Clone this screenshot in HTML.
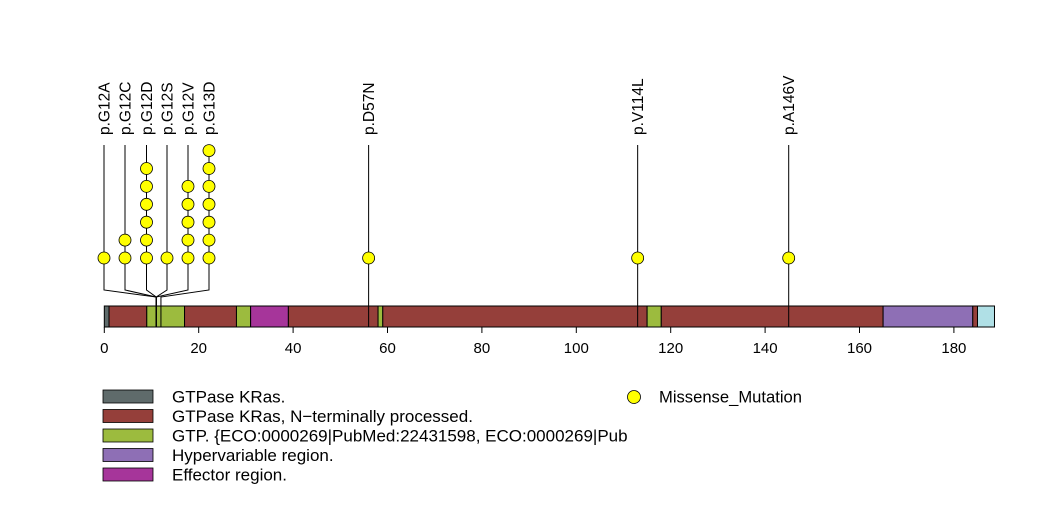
<!DOCTYPE html>
<html><head><meta charset="utf-8"><style>
body{margin:0;background:#fff;}
svg{display:block;font-family:"Liberation Sans",sans-serif;}
</style></head><body>
<svg id="chart" width="1047" height="524" viewBox="0 0 1047 524" xmlns="http://www.w3.org/2000/svg">
<g id="domains"></g>
<g id="muts"></g>
<g id="axis"></g>
<g id="legend"></g>
</svg>
<script>
const domainStarts=[0,1,9,17,28,31,39,58,59,115,118,165,184,185];
const domainEnds=[1,9,17,28,31,39,58,59,115,118,165,184,185,188.6];
const domainTypes=[0,1,2,1,2,4,1,2,1,2,1,3,1,5];
const typeColors=["#5f6b6b","#953f3a","#9cbb3e","#8e6fb5","#a6359a","#b0e0e6"];
const mutLabels=["p.G12A","p.G12C","p.G12D","p.G12S","p.G12V","p.G13D","p.D57N","p.V114L","p.A146V"];
const mutPositions=[11,11,11,11,11,12,56,113,145];
const mutCounts=[1,2,6,1,5,7,1,1,1];
const dispX=[104,125,146.5,167,188,209,null,null,null];
const ticks=[0,20,40,60,80,100,120,140,160,180];
const legendLabels=["GTPase KRas.","GTPase KRas, N\u2212terminally processed.","GTP. {ECO:0000269|PubMed:22431598, ECO:0000269|Pub","Hypervariable region.","Effector region."];
const legendTypes=[0,1,2,3,4];

const NS="http://www.w3.org/2000/svg";
const x=v=>104.3+v*4.72;
const barY=306,barH=21;
function mk(t,a,p){const e=document.createElementNS(NS,t);for(const k in a)e.setAttribute(k,a[k]);p.appendChild(e);return e;}
const D=document.getElementById('domains');
domainStarts.forEach((s,i)=>{
 const r=mk('rect',{x:x(s),y:barY,width:x(domainEnds[i])-x(s),height:barH,fill:typeColors[domainTypes[i]],stroke:'#000','stroke-width':1},D);
 
 
});
const M=document.getElementById('muts');
mutLabels.forEach((lab,i)=>{
 const px=x(mutPositions[i]);
 const dx=dispX[i]!==null?dispX[i]:px;
 if(dispX[i]!==null){
  mk('polyline',{points:`${dx},145 ${dx},290 ${px},297 ${px},327`,fill:'none',stroke:'#000','stroke-width':1},M);
 } else {
  mk('line',{x1:px,y1:145,x2:px,y2:327,stroke:'#000','stroke-width':1},M);
 }
 for(let k=0;k<mutCounts[i];k++){
  const c=mk('circle',{cx:dx,cy:258-k*17.9,r:6,fill:'#ffff00',stroke:'#000','stroke-width':0.8},M);
  
  
 }
 const t=mk('text',{x:0,y:0,transform:`translate(${dx+5.5},135) rotate(-90)`,'font-size':15.5,'text-anchor':'start',fill:'#000'},M);
 t.textContent=lab;
 
 
});
const A=document.getElementById('axis');
mk('line',{x1:x(0),y1:327,x2:x(180),y2:327,stroke:'#000','stroke-width':1},A);
ticks.forEach(v=>{
 mk('line',{x1:x(v),y1:327,x2:x(v),y2:333,stroke:'#000'},A);
 const t=mk('text',{x:x(v),y:353,'font-size':15,'text-anchor':'middle'},A);
 t.textContent=v;
 
 
});
const L=document.getElementById('legend');
legendLabels.forEach((lab,i)=>{
 const y=390+i*19.5;
 const r=mk('rect',{x:103,y:y,width:50,height:13,fill:typeColors[legendTypes[i]],stroke:'#000','stroke-width':0.8},L);
 
 
 const t=mk('text',{x:172,y:y+12.5,'font-size':17},L);
 t.textContent=lab;
 
 
});
mk('circle',{cx:634,cy:397,r:6.5,fill:'#ffff00',stroke:'#000','stroke-width':0.8},L);
const mt=mk('text',{x:659,y:402.5,'font-size':16.6},L);
mt.textContent="Missense_Mutation";


</script>
</body></html>
